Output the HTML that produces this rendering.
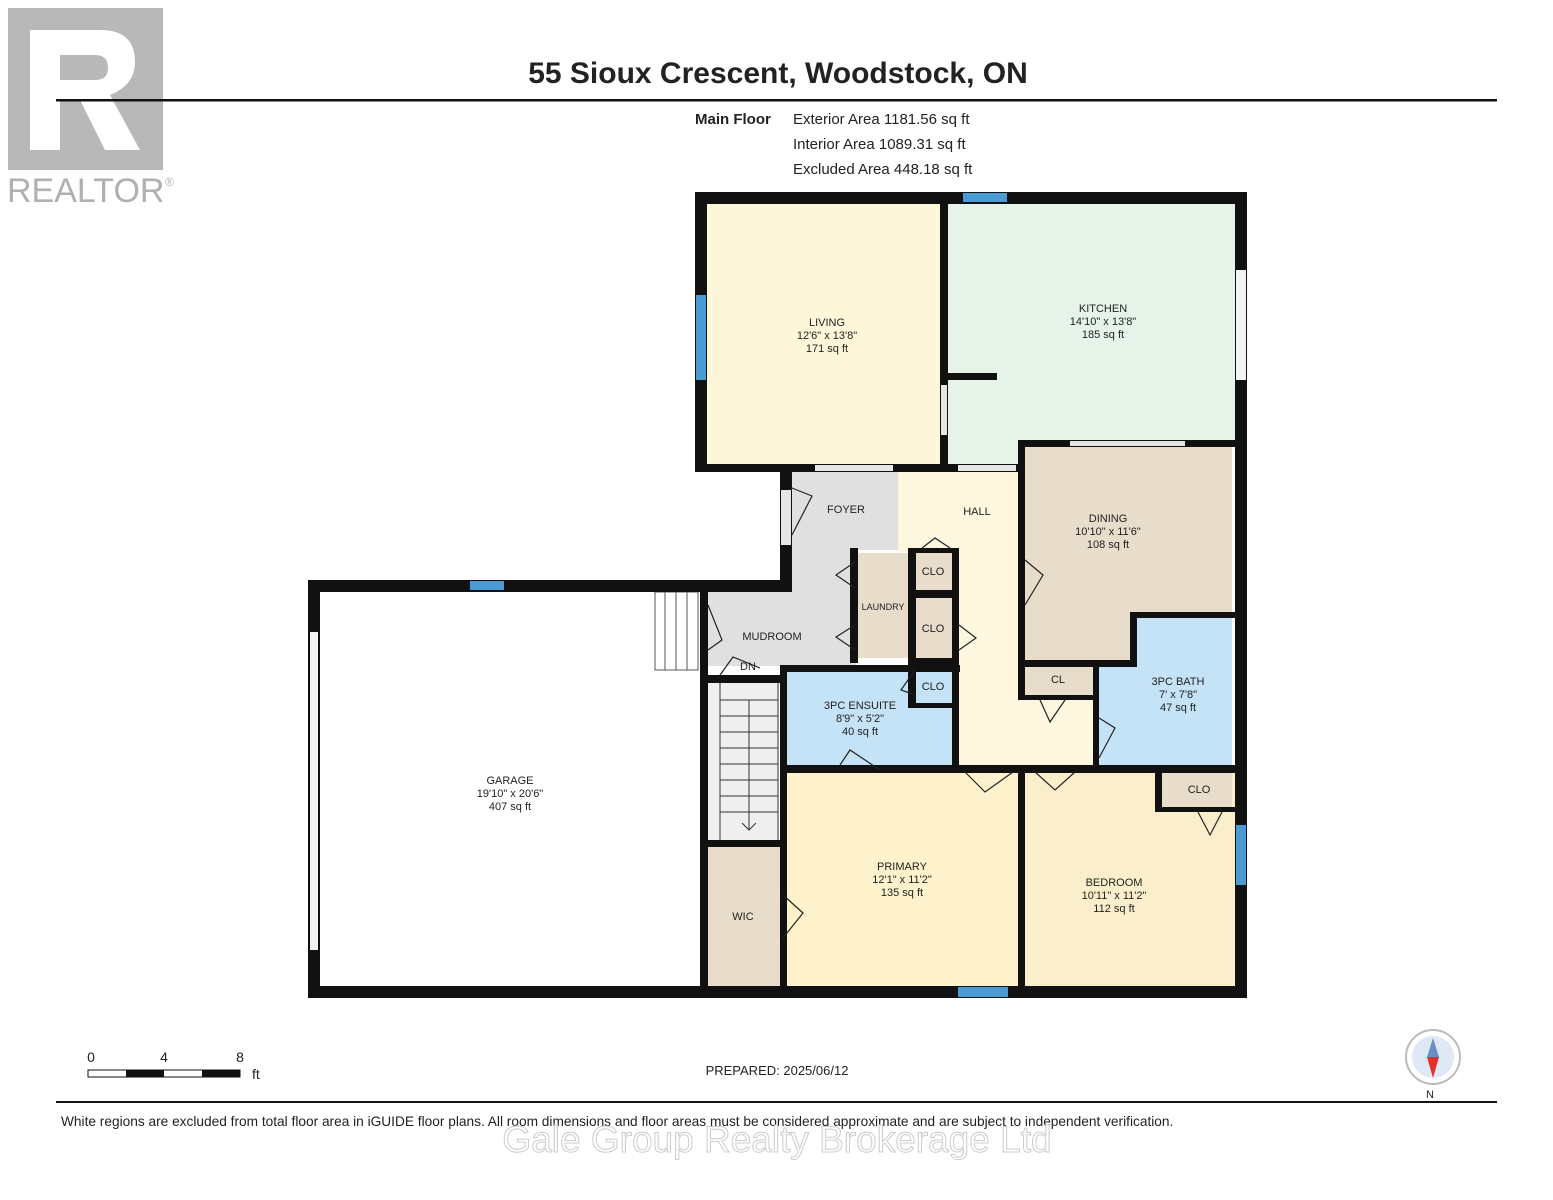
<!DOCTYPE html>
<html><head><meta charset="utf-8"><style>
body{margin:0;background:#fff;width:1553px;height:1200px;overflow:hidden;font-family:"Liberation Sans",Arial,sans-serif}
svg{display:block}
text{font-family:"Liberation Sans",Arial,sans-serif;fill:#222}
</style></head><body>
<svg width="1553" height="1200" viewBox="0 0 1553 1200">
<rect x="8" y="8" width="155" height="162" fill="#b8b8b8"/>
<path d="M30 30 V150 H60 V100 H80 L105 150 H140 L110 95 Q135 85 135 62 Q135 30 100 30 Z M60 55 H95 Q108 55 108 68 Q108 80 95 80 H60 Z" fill="#fff" fill-rule="evenodd"/>
<text x="7" y="202" font-size="34" style="fill:#b0b0b0">REALTOR</text>
<text x="165" y="186" font-size="12" style="fill:#b0b0b0">®</text>
<text x="778" y="83" font-size="30" font-weight="bold" text-anchor="middle">55 Sioux Crescent, Woodstock, ON</text>
<rect x="56" y="99" width="1441" height="2.5" fill="#111"/>
<text x="695" y="124" font-size="15" font-weight="bold">Main Floor</text>
<text x="793" y="124" font-size="15">Exterior Area 1181.56 sq ft</text>
<text x="793" y="149" font-size="15">Interior Area 1089.31 sq ft</text>
<text x="793" y="174" font-size="15">Excluded Area 448.18 sq ft</text>

<rect x="707" y="204" width="240" height="262" fill="#fdf6d8"/>
<rect x="947" y="204" width="288" height="236" fill="#e5f3e8"/>
<rect x="947" y="430" width="71" height="36" fill="#e5f3e8"/>
<rect x="1022" y="446" width="210" height="166" fill="#e8dccb"/>
<rect x="1022" y="600" width="113" height="62" fill="#e8dccb"/>
<rect x="898" y="472" width="120" height="80" fill="#fdf7df"/>
<rect x="958" y="548" width="60" height="220" fill="#fdf7df"/>
<rect x="1018" y="697" width="78" height="70" fill="#fdf7df"/>
<rect x="792" y="472" width="106" height="78" fill="#e0e0e0"/>
<rect x="706" y="592" width="150" height="74" fill="#e0e0e0"/>
<rect x="786" y="548" width="70" height="50" fill="#e0e0e0"/>
<rect x="858" y="553" width="50" height="105" fill="#e8dccb"/>
<rect x="916" y="553" width="36" height="37" fill="#e8dccb"/>
<rect x="916" y="598" width="36" height="60" fill="#e8dccb"/>
<rect x="916" y="668" width="36" height="35" fill="#e8dccb"/>
<rect x="787" y="668" width="168" height="100" fill="#c5e3f6"/>
<rect x="1137" y="617" width="95" height="150" fill="#c5e3f6"/>
<rect x="1097" y="665" width="45" height="102" fill="#c5e3f6"/>
<rect x="1024" y="662" width="70" height="35" fill="#e8dccb"/>
<rect x="787" y="773" width="231" height="213" fill="#fdf2cc"/>
<rect x="1025" y="773" width="210" height="213" fill="#fbefcb"/>
<rect x="1162" y="772" width="70" height="36" fill="#e8dccb"/>
<rect x="707" y="847" width="73" height="139" fill="#e8dccb"/>
<rect x="707" y="683" width="72" height="157" fill="#efefef"/>
<g stroke="#333" stroke-width="1">
<line x1="720" y1="683" x2="720" y2="840"/><line x1="778" y1="683" x2="778" y2="840"/>
<line x1="720" y1="700" x2="778" y2="700"/><line x1="720" y1="716" x2="778" y2="716"/><line x1="720" y1="732" x2="778" y2="732"/><line x1="720" y1="748" x2="778" y2="748"/><line x1="720" y1="764" x2="778" y2="764"/><line x1="720" y1="780" x2="778" y2="780"/><line x1="720" y1="796" x2="778" y2="796"/><line x1="720" y1="812" x2="778" y2="812"/>
<line x1="749" y1="700" x2="749" y2="830"/><polyline points="742,823 749,830 756,823" fill="none"/>
</g>
<g stroke="#555" stroke-width="1" fill="none"><rect x="655" y="592" width="43" height="78"/><line x1="665" y1="592" x2="665" y2="670"/><line x1="676" y1="592" x2="676" y2="670"/><line x1="687" y1="592" x2="687" y2="670"/></g>

<g fill="#111">
<rect x="695" y="192" width="552" height="12"/>
<rect x="695" y="192" width="12" height="280"/>
<rect x="1235" y="192" width="12" height="806"/>
<rect x="308" y="986" width="939" height="12"/>
<rect x="308" y="580" width="484" height="12"/>
<rect x="308" y="580" width="12" height="418"/>
<rect x="780" y="464" width="12" height="128"/>
<rect x="695" y="464" width="323" height="8"/>
<rect x="700" y="592" width="8" height="394"/>
<rect x="940" y="204" width="8" height="262"/>
<rect x="947" y="373" width="50" height="7"/>
<rect x="1018" y="440" width="7" height="258"/>
<rect x="1018" y="440" width="217" height="7"/>
<rect x="1130" y="612" width="105" height="6"/>
<rect x="1130" y="612" width="7" height="55"/>
<rect x="1018" y="660" width="119" height="7"/>
<rect x="1018" y="660" width="7" height="40"/>
<rect x="1093" y="660" width="6" height="110"/>
<rect x="1018" y="695" width="80" height="5"/>
<rect x="780" y="665" width="180" height="7"/>
<rect x="780" y="665" width="7" height="330"/>
<rect x="952" y="548" width="7" height="220"/>
<rect x="908" y="548" width="50" height="5"/>
<rect x="908" y="548" width="8" height="160"/>
<rect x="850" y="548" width="8" height="115"/>
<rect x="916" y="590" width="36" height="8"/>
<rect x="916" y="658" width="36" height="10"/>
<rect x="908" y="703" width="50" height="5"/>
<rect x="780" y="765" width="460" height="8"/>
<rect x="1018" y="765" width="7" height="230"/>
<rect x="1155" y="765" width="7" height="45"/>
<rect x="1155" y="807" width="80" height="5"/>
<rect x="700" y="840" width="87" height="7"/>
<rect x="700" y="675" width="85" height="8"/>
</g>
<g>
<rect x="963" y="193" width="44" height="9" fill="#4a9bd4"/>
<rect x="696" y="295" width="10" height="85" fill="#4a9bd4"/>
<rect x="470" y="581" width="34" height="9" fill="#4a9bd4"/>
<rect x="958" y="987" width="50" height="10" fill="#4a9bd4"/>
<rect x="1236" y="825" width="10" height="60" fill="#4a9bd4"/>
<rect x="1236" y="270" width="10" height="110" fill="#f2f2f2"/>
<rect x="310" y="632" width="8" height="318" fill="#f2f2f2"/>
<rect x="815" y="465" width="78" height="6" fill="#e6e6e6"/>
<rect x="958" y="465" width="58" height="6" fill="#e6e6e6"/>
<rect x="1070" y="441" width="115" height="5" fill="#e6e6e6"/>
<rect x="781" y="490" width="10" height="55" fill="#e6e6e6"/>
<rect x="941" y="385" width="6" height="50" fill="#e6e6e6"/>
</g>
<g stroke="#222" stroke-width="1.2" fill="none">
<path d="M792 488 L812 496 L792 535"/>
<path d="M855 562 L836 575 L855 588"/><path d="M855 625 L836 637 L855 650"/>
<path d="M708 605 L722 640 L708 650"/>
<path d="M922 548 L935 538 L950 548"/>
<path d="M959 625 L976 638 L959 650"/>
<path d="M1025 560 L1043 575 L1025 605"/>
<path d="M915 670 L901 690 L915 695"/>
<path d="M1040 700 L1050 722 L1065 700"/>
<path d="M1099 718 L1115 728 L1099 758"/>
<path d="M840 765 L850 750 L880 770"/>
<path d="M965 772 L985 792 L1013 772"/>
<path d="M1035 772 L1055 790 L1075 772"/>
<path d="M1198 812 L1210 835 L1222 812"/>
<path d="M783 895 L803 913 L783 938"/>
<path d="M720 675 L733 657 L760 668"/>
</g>
<g font-size="11" text-anchor="middle">
<text x="827" y="326">LIVING</text><text x="827" y="339">12'6" x 13'8"</text><text x="827" y="352">171 sq ft</text>
<text x="1103" y="312">KITCHEN</text><text x="1103" y="325">14'10" x 13'8"</text><text x="1103" y="338">185 sq ft</text>
<text x="1108" y="522">DINING</text><text x="1108" y="535">10'10" x 11'6"</text><text x="1108" y="548">108 sq ft</text>
<text x="846" y="513">FOYER</text><text x="977" y="515">HALL</text>
<text x="772" y="640">MUDROOM</text><text x="748" y="670">DN</text>
<text x="883" y="610" font-size="9">LAUNDRY</text>
<text x="933" y="575">CLO</text><text x="933" y="632">CLO</text><text x="933" y="690">CLO</text>
<text x="1058" y="683">CL</text>
<text x="1178" y="685">3PC BATH</text><text x="1178" y="698">7' x 7'8"</text><text x="1178" y="711">47 sq ft</text>
<text x="860" y="709">3PC ENSUITE</text><text x="860" y="722">8'9" x 5'2"</text><text x="860" y="735">40 sq ft</text>
<text x="510" y="784">GARAGE</text><text x="510" y="797">19'10" x 20'6"</text><text x="510" y="810">407 sq ft</text>
<text x="902" y="870">PRIMARY</text><text x="902" y="883">12'1" x 11'2"</text><text x="902" y="896">135 sq ft</text>
<text x="1114" y="886">BEDROOM</text><text x="1114" y="899">10'11" x 11'2"</text><text x="1114" y="912">112 sq ft</text>
<text x="1199" y="793">CLO</text><text x="743" y="920">WIC</text>
</g>
<g font-size="14"><text x="91" y="1062" text-anchor="middle">0</text><text x="164" y="1062" text-anchor="middle">4</text><text x="240" y="1062" text-anchor="middle">8</text><text x="252" y="1079">ft</text></g>
<rect x="88" y="1070" width="152" height="7" fill="#fff" stroke="#111"/>
<rect x="126" y="1070" width="38" height="7" fill="#111"/><rect x="202" y="1070" width="38" height="7" fill="#111"/>
<text x="777" y="1075" font-size="13" text-anchor="middle">PREPARED: 2025/06/12</text>
<circle cx="1433" cy="1057" r="27" fill="#fff" stroke="#bbb" stroke-width="2"/>
<circle cx="1433" cy="1057" r="21" fill="#dfe9f5"/>
<polygon points="1433,1038 1427,1057 1439,1057" fill="#6a8fc7"/>
<polygon points="1433,1078 1427,1057 1439,1057" fill="#e53030"/>
<text x="1430" y="1098" font-size="11" text-anchor="middle">N</text>
<rect x="56" y="1101" width="1441" height="2" fill="#111"/>
<text x="61" y="1126" font-size="13.7">White regions are excluded from total floor area in iGUIDE floor plans. All room dimensions and floor areas must be considered approximate and are subject to independent verification.</text>
<text x="777" y="1152" font-size="37" text-anchor="middle" style="fill:#fff;stroke:#ccc;stroke-width:1">Gale Group Realty Brokerage Ltd</text>
</svg>
</body></html>
